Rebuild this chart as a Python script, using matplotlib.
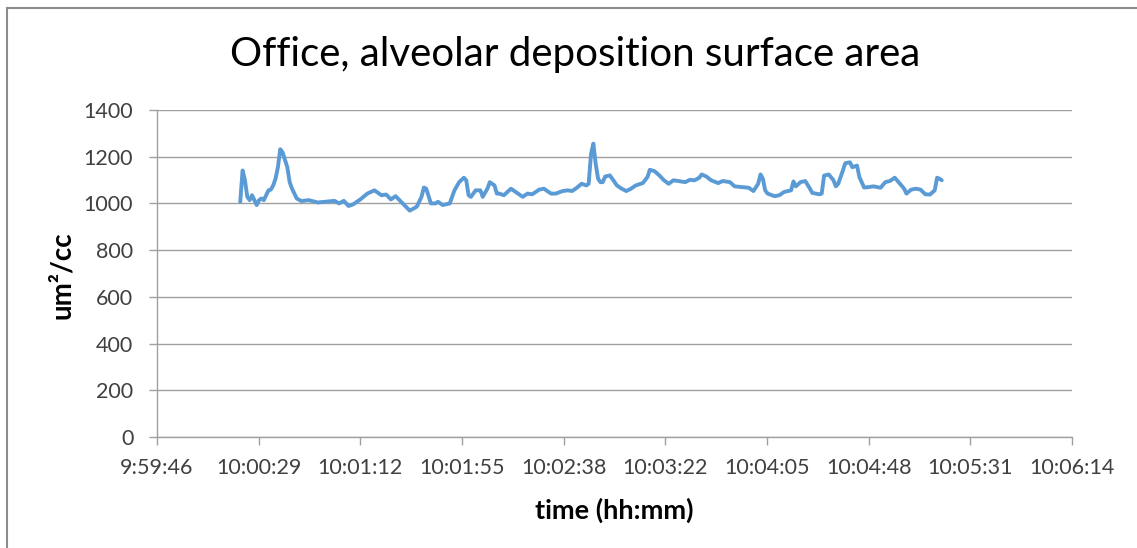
import matplotlib.pyplot as plt
from matplotlib.lines import Line2D
from matplotlib.ticker import FuncFormatter

# readings: clock time and alveolar deposition surface area (um^2/cc)
times = ["10:00:21", "10:00:22", "10:00:23", "10:00:24", "10:00:25", "10:00:26", "10:00:27",
         "10:00:28", "10:00:29", "10:00:30", "10:00:31", "10:00:33", "10:00:34", "10:00:35",
         "10:00:36", "10:00:37", "10:00:38", "10:00:39", "10:00:41", "10:00:42", "10:00:43",
         "10:00:45", "10:00:47", "10:00:50", "10:00:54", "10:00:57", "10:01:01", "10:01:03",
         "10:01:05", "10:01:07", "10:01:09", "10:01:12", "10:01:15", "10:01:18", "10:01:21",
         "10:01:23", "10:01:25", "10:01:27", "10:01:30", "10:01:33", "10:01:36", "10:01:38",
         "10:01:39", "10:01:40", "10:01:42", "10:01:44", "10:01:45", "10:01:47", "10:01:50",
         "10:01:51", "10:01:52", "10:01:54", "10:01:56", "10:01:57", "10:01:58", "10:01:59",
         "10:02:01", "10:02:03", "10:02:04", "10:02:06", "10:02:07", "10:02:09", "10:02:10",
         "10:02:11", "10:02:13", "10:02:16", "10:02:18", "10:02:21", "10:02:23", "10:02:25",
         "10:02:28", "10:02:30", "10:02:33", "10:02:35", "10:02:38", "10:02:40", "10:02:42",
         "10:02:44", "10:02:46", "10:02:48", "10:02:49", "10:02:50", "10:02:51", "10:02:52",
         "10:02:53", "10:02:54", "10:02:55", "10:02:56", "10:02:58", "10:02:59", "10:03:01",
         "10:03:03", "10:03:05", "10:03:07", "10:03:09", "10:03:12", "10:03:14", "10:03:15",
         "10:03:17", "10:03:19", "10:03:21", "10:03:23", "10:03:25", "10:03:27", "10:03:30",
         "10:03:32", "10:03:34", "10:03:36", "10:03:37", "10:03:39", "10:03:41", "10:03:44",
         "10:03:46", "10:03:49", "10:03:51", "10:03:54", "10:03:57", "10:03:59", "10:04:01",
         "10:04:02", "10:04:03", "10:04:04", "10:04:05", "10:04:08", "10:04:10", "10:04:12",
         "10:04:15", "10:04:16", "10:04:17", "10:04:19", "10:04:21", "10:04:23", "10:04:24",
         "10:04:27", "10:04:28", "10:04:29", "10:04:31", "10:04:33", "10:04:34", "10:04:35",
         "10:04:37", "10:04:38", "10:04:40", "10:04:41", "10:04:43", "10:04:44", "10:04:46",
         "10:04:48", "10:04:50", "10:04:53", "10:04:55", "10:04:57", "10:04:59", "10:05:01",
         "10:05:03", "10:05:04", "10:05:06", "10:05:08", "10:05:10", "10:05:12", "10:05:14",
         "10:05:16", "10:05:17", "10:05:18", "10:05:19"]
values = [1007, 1141, 1099, 1028, 1014, 1035, 1014,
          993, 1014, 1021, 1014, 1056, 1059, 1077,
          1106, 1155, 1232, 1218, 1155, 1091, 1063,
          1021, 1010, 1014, 1004, 1007, 1011, 1000,
          1011, 989, 996, 1017, 1042, 1056, 1035,
          1038, 1017, 1031, 1000, 969, 986, 1028,
          1068, 1063, 1000, 1000, 1007, 993, 1000,
          1028, 1056, 1091, 1110, 1099, 1035, 1028,
          1056, 1056, 1028, 1063, 1091, 1077, 1042,
          1042, 1035, 1063, 1049, 1028, 1042, 1039,
          1059, 1063, 1042, 1042, 1053, 1056, 1053,
          1067, 1084, 1077, 1084, 1211, 1256, 1169,
          1106, 1091, 1091, 1115, 1120, 1106, 1077,
          1063, 1053, 1063, 1077, 1087, 1113, 1144,
          1138, 1120, 1099, 1084, 1099, 1096, 1091,
          1101, 1099, 1110, 1124, 1115, 1099, 1087,
          1096, 1091, 1073, 1070, 1067, 1053, 1084,
          1124, 1106, 1056, 1042, 1031, 1035, 1049,
          1056, 1094, 1073, 1091, 1096, 1063, 1045,
          1039, 1042, 1119, 1124, 1099, 1073, 1084,
          1141, 1172, 1176, 1155, 1162, 1113, 1068,
          1070, 1073, 1067, 1091, 1096, 1110, 1087,
          1063, 1042, 1059, 1063, 1059, 1039, 1038,
          1056, 1110, 1106, 1099]


def to_seconds(s):
    h, m, sec = s.split(":")
    return int(h) * 3600 + int(m) * 60 + int(sec)


def fmt_time(v, pos):
    v = int(round(v))
    return "{}:{:02d}:{:02d}".format(v // 3600, (v % 3600) // 60, v % 60)


secs = [to_seconds(t) for t in times]

plt.rcParams['font.family'] = ['Lato', 'DejaVu Sans']
text_col = "#404040"
grid_col = "#a0a0a0"

fig = plt.figure(figsize=(11.37, 5.48), dpi=100)
ax = fig.add_axes([0.138, 0.2026, 0.805, 0.5967])

ax.plot(secs, values, color="#5b9bd5", lw=2.8, solid_joinstyle="round", solid_capstyle="round")

# excel axis: 0.4165 .. 0.421 days, major unit 0.0005 day (43.2 s)
x0 = 0.4165 * 86400
ax.set_xlim(x0, 0.421 * 86400)
ax.set_xticks([x0 + 43.2 * i for i in range(10)])
ax.xaxis.set_major_formatter(FuncFormatter(fmt_time))
ax.set_ylim(0, 1400)
ax.set_yticks(range(0, 1401, 200))

ax.grid(axis="y", color=grid_col, lw=1.0)
ax.set_axisbelow(True)
for side in ("top", "right"):
    ax.spines[side].set_visible(False)
for side in ("left", "bottom"):
    ax.spines[side].set_color(grid_col)
    ax.spines[side].set_linewidth(1.0)
ax.tick_params(axis="both", colors=grid_col, labelcolor=text_col, labelsize=15.5, length=6, width=1.0)
ax.tick_params(axis="x", pad=9)
ax.tick_params(axis="y", pad=11)

fig.text(0.506, 0.9, "Office, alveolar deposition surface area", fontsize=29,
         color="black", ha="center", va="center")
fig.text(0.540, 0.069, "time (hh:mm)", fontsize=19.5, fontweight="bold",
         color="black", ha="center", va="center")
fig.text(0.0545, 0.498, "um²/cc", fontsize=20, fontweight="bold", color="black",
         ha="center", va="center", rotation=90)

# chart frame edges
fig.add_artist(Line2D([0.0062, 0.0062], [0, 0.9845], color="#8c8c8c", lw=1.5))
fig.add_artist(Line2D([0.0062, 1], [0.9845, 0.9845], color="#8c8c8c", lw=1.5))

fig.savefig("out.png", dpi=100)
